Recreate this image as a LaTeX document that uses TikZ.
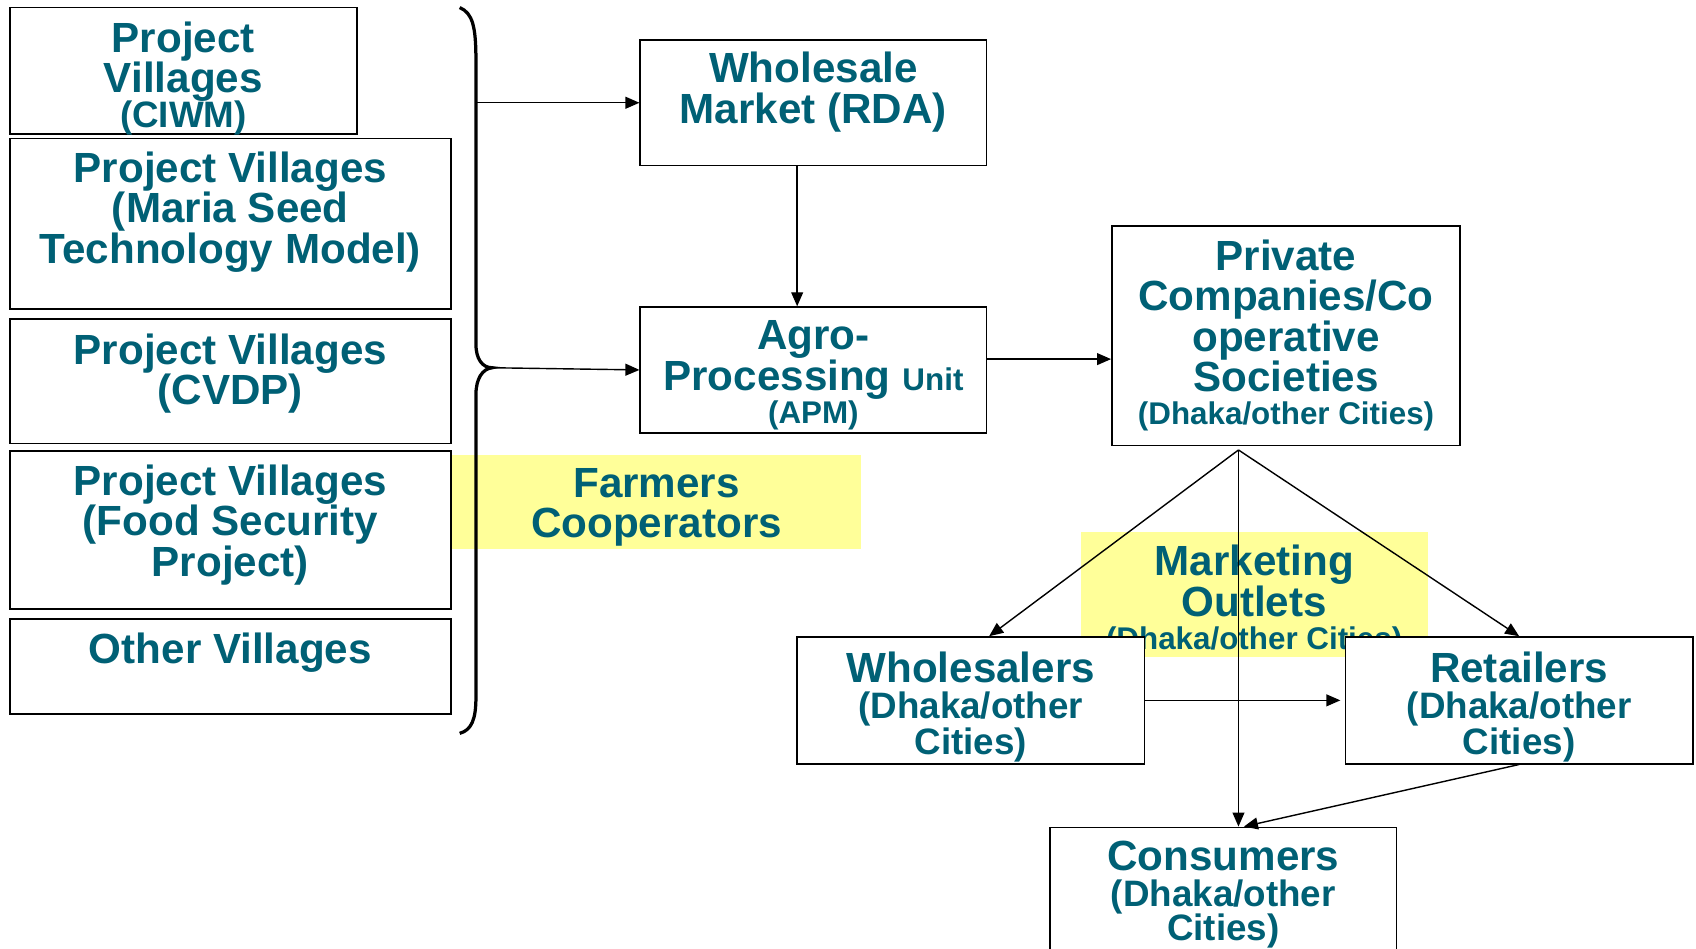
\documentclass[tikz,border=0pt]{standalone}
\usepackage{fontspec}
\setmainfont{Liberation Sans}
\usetikzlibrary{arrows.meta,calc}

\definecolor{teal}{RGB}{0,96,117}
\definecolor{hilite}{RGB}{255,255,153}
\newcommand\bigf{\fontsize{39}{37.5}\selectfont\bfseries}
\newcommand\midf{\fontsize{34}{33}\selectfont\bfseries}
\newcommand\smlf{\fontsize{29}{30}\selectfont\bfseries}

\begin{document}
\begin{tikzpicture}[x=1pt,y=-1pt,
      frame/.style = {draw, line width=1.6pt, fill=white, inner sep=0pt},
      label/.style = {text=teal, font=\bigf, align=center, inner sep=0pt, anchor=north},
      yellow/.style = {fill=hilite, inner sep=0pt},
      arr/.style = {line width=1.3pt, -{Triangle[length=13pt,width=11pt]}}]
  \useasboundingbox (0,0) rectangle (1568,877);
  % highlighted captions
  \node[yellow, minimum width=378pt, minimum height=87pt] (farm) at (607,464.5) {};
  \node[label, yshift=-12pt] (farm-t) at (farm.north) {Farmers\\Cooperators};
  \node[yellow, minimum width=321pt, minimum height=115pt] (mkt) at (1159.5,549.5) {};
  \node[label, yshift=-12pt] (mkt-t) at (mkt.north) {Marketing\\Outlets\\[-7pt]{\smlf (Dhaka/other Cities)}};
  % villages
  \node[frame, minimum width=321pt, minimum height=117pt] (ciwm) at (169.5,65.5) {};
  \node[label, yshift=-13.5pt] (ciwm-t) at (ciwm.north) {Project\\Villages\\[-5pt]{\midf (CIWM)}};
  \node[frame, minimum width=408pt, minimum height=158pt] (maria) at (213,207) {};
  \node[label, yshift=-13pt] (maria-t) at (maria.north) {Project Villages\\(Maria Seed\\Technology Model)};
  \node[frame, minimum width=408pt, minimum height=115pt] (cvdp) at (213,352.5) {};
  \node[label, yshift=-14pt] (cvdp-t) at (cvdp.north) {Project Villages\\(CVDP)};
  \node[frame, minimum width=408pt, minimum height=146pt] (food) at (213,490) {};
  \node[label, yshift=-13pt] (food-t) at (food.north) {Project Villages\\(Food Security\\Project)};
  \node[frame, minimum width=408pt, minimum height=88pt] (other) at (213,616) {};
  \node[label, yshift=-14pt] (other-t) at (other.north) {Other Villages};
  % brace
  \coordinate (brtop) at (440,95);
  \coordinate (brtip) at (455,340);
  \draw[line width=3pt] (425,7) .. controls (437,12) and (440,25) .. (440,55) -- (440,318)
    .. controls (440,332) and (446,340) .. (brtip)
    .. controls (446,341) and (440,350) .. (440,365) -- (440,645)
    .. controls (440,665) and (436,675) .. (425,678);
  % processing
  \node[frame, minimum width=320pt, minimum height=116pt] (rda) at (752,95) {};
  \node[label, yshift=-12pt] (rda-t) at (rda.north) {Wholesale\\Market (RDA)};
  \node[frame, minimum width=320pt, minimum height=116pt] (apm) at (752,342) {};
  \node[label, yshift=-13pt] (apm-t) at (apm.north) {Agro-\\Processing {\smlf Unit}\\[-7pt]{\smlf (APM)}};
  \node[frame, minimum width=322pt, minimum height=203pt] (prv) at (1189,310.5) {};
  \node[label, yshift=-13pt] (prv-t) at (prv.north) {Private\\Companies/Co\\operative\\Societies\\[-7pt]{\smlf (Dhaka/other Cities)}};
  % outlets
  \node[frame, minimum width=321pt, minimum height=117pt] (whs) at (897.5,647.5) {};
  \node[label, yshift=-14pt] (whs-t) at (whs.north) {Wholesalers\\[-3.5pt]{\midf (Dhaka/other}\\[-4.5pt]{\midf Cities)}};
  \node[frame, minimum width=321pt, minimum height=117pt] (ret) at (1404.5,647.5) {};
  \node[label, yshift=-14pt] (ret-t) at (ret.north) {Retailers\\[-3.5pt]{\midf (Dhaka/other}\\[-4.5pt]{\midf Cities)}};
  \node[frame, minimum width=320pt, minimum height=140pt] (cons) at (1131,835) {};
  \node[label, yshift=-13pt] (cons-t) at (cons.north) {Consumers\\[-4.5pt]{\midf (Dhaka/other}\\[-5.5pt]{\midf Cities)}};
  % connectors
  \draw[arr] (brtop) -- (rda.west);
  \draw[arr] (brtip) -- (apm.west);
  \draw[arr] ([xshift=-15pt]rda.south) -- ([xshift=-15pt]apm.north);
  \draw[arr] ([yshift=10pt]apm.east) -- ([yshift=10pt]apm.east -| prv.west);
  \coordinate (fork) at (1145,416);
  \draw[arr] (fork) -- ([xshift=17pt]whs.north);
  \draw[arr] (fork) -- (ret.north);
  \draw[arr] (fork) -- (fork |- cons.north);
  \draw[arr] (whs.east) -- ([xshift=-4pt]ret.west);
  \draw[arr] (ret.south) -- ([xshift=5pt]fork |- cons.north);
\end{tikzpicture}
\end{document}
